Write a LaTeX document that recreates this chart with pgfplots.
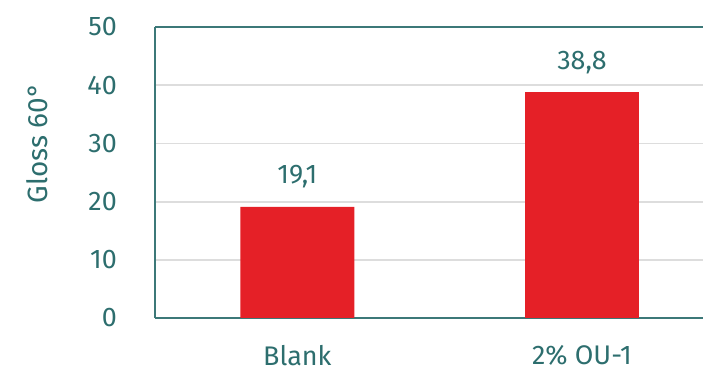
\documentclass[border=0pt]{standalone}
\usepackage{pgfplots}
\pgfplotsset{compat=1.18}
\usepackage{fontspec}
\setmainfont{Fira Sans}
\definecolor{tealtext}{RGB}{45,110,110}
\definecolor{tealaxis}{RGB}{60,120,120}
\definecolor{barred}{RGB}{229,32,39}
\definecolor{gridgrey}{RGB}{221,221,221}

\begin{document}
\begin{tikzpicture}
    % fixed canvas, 1px = 1bp
    \useasboundingbox (0,0) rectangle (703bp,372bp);
    \begin{axis}[
        at={(155bp,54bp)}, anchor=south west,
        width=548bp, height=291bp, scale only axis,
        xmin=-0.5, xmax=1.425,
        ymin=0, ymax=50,
        ytick={0,10,20,30,40,50},
        xtick=data,
        xticklabels={Blank, 2\% OU-1},
        axis x line=box,
        axis y line=left,
        axis line style={-, draw=tealaxis, line width=2bp},
        major tick length=0pt,
        ymajorgrids,
        major grid style={draw=gridgrey, line width=1.8bp},
        /pgf/number format/assume math mode=true,
        tick label style={font=\fontsize{27}{32}\selectfont, text=tealtext},
        yticklabel style={anchor=east, inner sep=0pt, xshift=-38bp},
        xticklabel style={anchor=north, inner sep=0pt, yshift=-27bp},
        ylabel={Gloss 60°},
        ylabel style={at={(axis description cs:-0.2153,0.601)}, anchor=center,
            rotate=0, font=\fontsize{28}{32}\selectfont, text=tealtext, inner sep=0pt},
        ybar, bar width=0.4,
        nodes near coords,
        nodes near coords style={font=\fontsize{27}{32}\selectfont, text=tealtext,
            anchor=base, inner sep=0pt, yshift=23bp,
            /pgf/number format/.cd, fixed, fixed zerofill, precision=1, use comma},
    ]
    \addplot[fill=barred, draw=none] coordinates {(0,19.1) (1,38.8)};
    \end{axis}
\end{tikzpicture}
\end{document}
